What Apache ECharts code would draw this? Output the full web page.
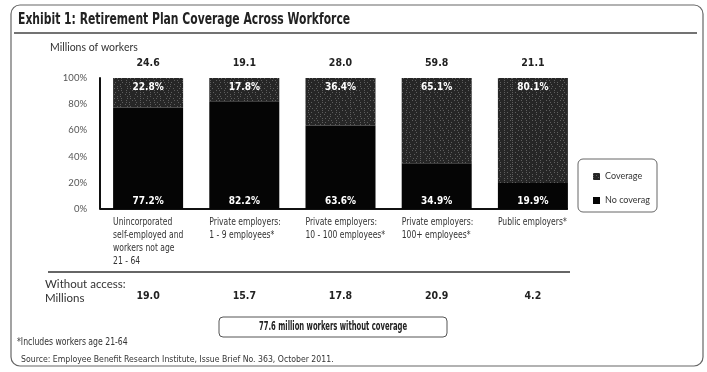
<!DOCTYPE html>
<html>
<head>
<meta charset="utf-8">
<script src="https://cdn.jsdelivr.net/npm/echarts@6/dist/echarts.min.js"></script>
<style>
  html, body { margin: 0; padding: 0; background: #fff; }
  #chart { width: 707px; height: 372px; }
</style>
</head>
<body>
<div id="chart"></div>
<script>
// Worker groups shown along the bottom axis
const categories = [
  'Unincorporated\nself-employed and\nworkers not age\n21 - 64',
  'Private employers:\n1 - 9 employees*',
  'Private employers:\n10 - 100 employees*',
  'Private employers:\n100+ employees*',
  'Public employers*'
];
// Millions of workers in each group (top row)
const totalWorkers = ['24.6', '19.1', '28.0', '59.8', '21.1'];
// Share of each group, percent
const noCoverage = [77.2, 82.2, 63.6, 34.9, 19.9];
const coverage = [22.8, 17.8, 36.4, 65.1, 80.1];
// Millions without access (bottom row)
const withoutAccess = ['19.0', '15.7', '17.8', '20.9', '4.2'];
const seriesNames = ['Coverage', 'No coverage'];
const summaryText = '77.6 million workers without coverage';

const NARROW = '"DejaVu Sans Condensed", "Liberation Sans Narrow", sans-serif';
const HUMAN = 'Lato, "Open Sans", sans-serif';
const BAR_W = 70;

const chart = echarts.init(document.getElementById('chart'), null, { renderer: 'canvas' });

const stipple = {
  symbol: 'rect',
  symbolSize: 1,
  color: 'rgba(255,255,255,0.26)',
  dashArrayX: [[1, 3, 1, 5, 1, 2], [1, 5, 1, 2, 1, 4], [1, 2, 1, 6, 1, 3], [1, 4, 1, 3, 1, 5], [1, 6, 1, 2]],
  dashArrayY: [1, 1],
  rotation: 0
};

const option = {
  animation: false,
  backgroundColor: '#fff',
  grid: { left: 100, top: 78, width: 481, height: 131, containLabel: false },
  legend: {
    data: seriesNames,
    orient: 'vertical',
    left: 588,
    top: 167,
    itemWidth: 7,
    itemHeight: 7,
    itemGap: 15,
    icon: 'rect',
    textStyle: {
      fontFamily: HUMAN, fontSize: 9, color: '#333',
      width: 46, overflow: 'truncate', ellipsis: ''
    },
    selectedMode: false
  },
  xAxis: [
    {
      type: 'category',
      data: categories,
      position: 'bottom',
      axisLine: { show: false },
      axisTick: { show: false },
      axisLabel: { show: false }
    },
    {
      type: 'category',
      data: totalWorkers,
      position: 'top',
      axisLine: { show: false },
      axisTick: { show: false },
      axisLabel: {
        interval: 0, margin: 9,
        fontFamily: NARROW, fontWeight: 'bold', fontSize: 10.5, color: '#222'
      }
    },
    {
      type: 'category',
      data: withoutAccess,
      position: 'bottom',
      offset: 80,
      axisLine: { show: false },
      axisTick: { show: false },
      axisLabel: {
        interval: 0, margin: 2, verticalAlign: 'top',
        fontFamily: NARROW, fontWeight: 'bold', fontSize: 10.5, color: '#222'
      }
    }
  ],
  yAxis: {
    type: 'value',
    min: 0,
    max: 100,
    interval: 20,
    axisLine: { show: true, lineStyle: { color: '#111', width: 2 } },
    axisTick: { show: false },
    splitLine: { show: false },
    axisLabel: {
      formatter: '{value}%', margin: 13,
      fontFamily: HUMAN, fontSize: 9.5, color: '#555'
    }
  },
  series: [
    {
      name: 'No coverage',
      type: 'bar',
      stack: 'share',
      barWidth: BAR_W,
      data: noCoverage,
      itemStyle: { color: '#050505' },
      label: {
        show: true, position: 'insideBottom', distance: 3,
        formatter: p => p.value.toFixed(1) + '%',
        color: '#fff', fontFamily: NARROW, fontWeight: 'bold', fontSize: 10
      }
    },
    {
      name: 'Coverage',
      type: 'bar',
      stack: 'share',
      barWidth: BAR_W,
      data: coverage,
      itemStyle: { color: '#262626', decal: stipple },
      label: {
        show: true, position: 'insideTop', distance: 4,
        formatter: p => p.value.toFixed(1) + '%',
        color: '#fff', fontFamily: NARROW, fontWeight: 'bold', fontSize: 10
      }
    }
  ]
};

chart.setOption(option);

// Positions taken from the category scale
const origin = chart.convertToPixel({ xAxisIndex: 0, yAxisIndex: 0 }, [0, 0]);
const lastCenter = chart.convertToPixel({ xAxisIndex: 0, yAxisIndex: 0 }, [categories.length - 1, 0]);
const baseY = origin[1];
const bandW = (lastCenter[0] - origin[0]) / (categories.length - 1);
const axisX = origin[0] - bandW / 2;
const baseRight = lastCenter[0] + BAR_W / 2;

// Condensed category captions, left-aligned under each bar
const categoryTexts = categories.map((c, i) => {
  const cx = chart.convertToPixel({ xAxisIndex: 0, yAxisIndex: 0 }, [i, 0])[0];
  return {
    type: 'text', x: cx - BAR_W / 2, y: baseY + 6, scaleX: 0.77,
    style: { text: c, fontFamily: NARROW, fontSize: 11, lineHeight: 13.3,
      fill: '#333', align: 'left', verticalAlign: 'top' }
  };
});

chart.setOption({
  graphic: [
    // outer frame
    { type: 'rect', shape: { x: 11, y: 5, width: 692, height: 361, r: 9 },
      style: { fill: null, stroke: '#666', lineWidth: 1.2 }, silent: true },
    // title
    { type: 'text', x: 18, y: 20, scaleX: 0.8,
      style: { text: 'Exhibit 1: Retirement Plan Coverage Across Workforce',
        fontFamily: NARROW, fontWeight: 'bold', fontSize: 15, fill: '#222',
        verticalAlign: 'middle' } },
    { type: 'line', shape: { x1: 14, y1: 33, x2: 697, y2: 33 },
      style: { stroke: '#444', lineWidth: 1.6 } },
    { type: 'text', left: 50, top: 42,
      style: { text: 'Millions of workers', fontFamily: HUMAN, fontSize: 10.5, fill: '#333' } },
    // baseline of the bars
    { type: 'line', shape: { x1: axisX, y1: baseY, x2: baseRight, y2: baseY },
      style: { stroke: '#111', lineWidth: 2 } },
    ...categoryTexts,
    // legend frame
    { type: 'rect', shape: { x: 578, y: 159, width: 79, height: 53, r: 5 },
      style: { fill: null, stroke: '#666', lineWidth: 1 } },
    // separator above the bottom row
    { type: 'line', shape: { x1: 48, y1: 272, x2: 570, y2: 272 },
      style: { stroke: '#333', lineWidth: 1.5 } },
    { type: 'text', left: 45, top: 277,
      style: { text: 'Without access:\nMillions', fontFamily: HUMAN, fontSize: 11.5,
        lineHeight: 14, fill: '#333' } },
    // summary box
    { type: 'rect', shape: { x: 219, y: 317, width: 228, height: 20, r: 4 },
      style: { fill: null, stroke: '#555', lineWidth: 1 } },
    { type: 'text', x: 333, y: 327, scaleX: 0.66,
      style: { text: summaryText, align: 'center', verticalAlign: 'middle',
        fontFamily: NARROW, fontWeight: 'bold', fontSize: 11.5, fill: '#222' } },
    // notes
    { type: 'text', x: 17, y: 342, scaleX: 0.86,
      style: { text: '*Includes workers age 21-64', fontFamily: NARROW, fontSize: 10,
        fill: '#333', verticalAlign: 'middle' } },
    { type: 'text', x: 21, y: 360, scaleX: 0.91,
      style: { text: 'Source: Employee Benefit Research Institute, Issue Brief No. 363, October 2011.',
        fontFamily: NARROW, fontSize: 9.5, fill: '#333', verticalAlign: 'middle' } }
  ]
});
</script>
</body>
</html>
